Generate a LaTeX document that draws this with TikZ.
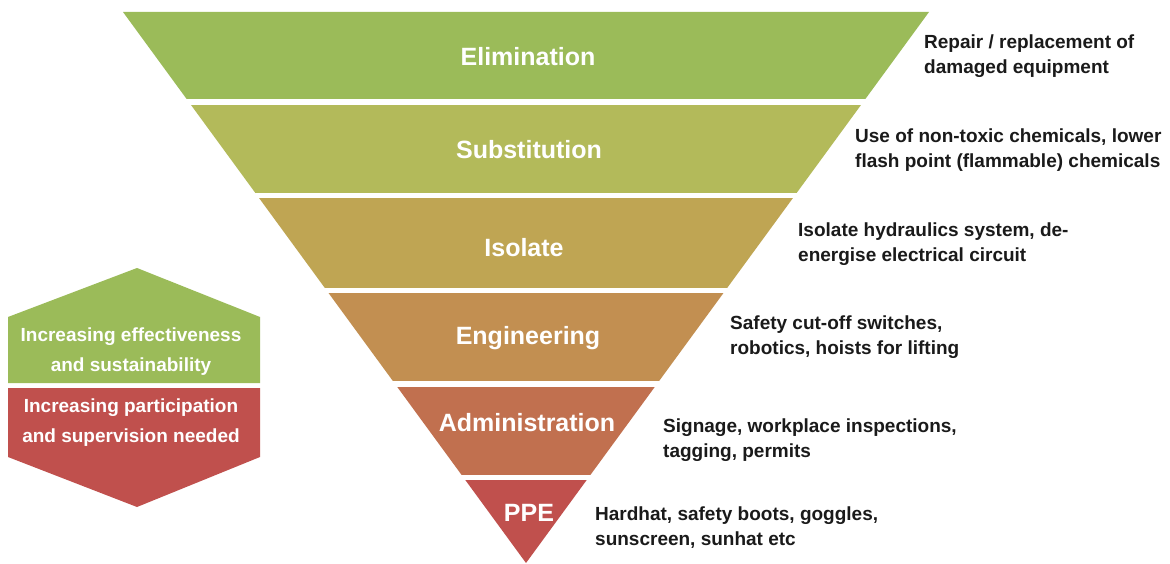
\documentclass[tikz,border=0pt]{standalone}
\usepackage{fontspec}
\setmainfont{Liberation Sans}
\definecolor{cA}{HTML}{9BBB59}
\definecolor{cB}{HTML}{B3BA5A}
\definecolor{cC}{HTML}{BFA553}
\definecolor{cD}{HTML}{C28F51}
\definecolor{cE}{HTML}{C1704F}
\definecolor{cF}{HTML}{C0504D}
\definecolor{txt}{HTML}{1A1A1A}
\begin{document}
\begin{tikzpicture}[x=1pt,y=-1pt,
  bandlabel/.style={text=white,font=\fontsize{25}{30}\selectfont\bfseries,inner sep=0pt},
  desc/.style={text=txt,font=\fontsize{19}{25}\selectfont\bfseries,align=left,anchor=west,inner sep=0pt},
  sidelabel/.style={text=white,font=\fontsize{19}{30}\selectfont\bfseries,align=center,inner sep=0pt}]
\useasboundingbox (0,0) rectangle (1170,564);
\fill[white] (0,0) rectangle (1170,564);
% bands of the inverted triangle
\foreach \t/\b/\c in {12/99/cA,106/193/cB,199/287/cC,293/380/cD,387/474/cE,480/564/cF}{
  \begin{scope}
    \clip (0,\t) rectangle (1170,\b);
    \fill[\c] (123,12) -- (929,12) -- (526,563) -- cycle;
  \end{scope}
}
% band labels
\node[bandlabel] (elim) at (528,57) {Elimination};
\node[bandlabel] (subs) at (529,150) {Substitution};
\node[bandlabel] (isol) at (524,248) {Isolate};
\node[bandlabel] (engi) at (528,338) {Engineering};
\node[bandlabel] (admi) at (527,423) {Administration};
\node[bandlabel] (ppe) at (529,513) {PPE};
% descriptions
\node[desc] (d1) at (924,56) {Repair / replacement of\\damaged equipment};
\node[desc] (d2) at (855,150) {Use of non-toxic chemicals, lower\\flash point (flammable) chemicals};
\node[desc] (d3) at (798,244) {Isolate hydraulics system, de-\\energise electrical circuit};
\node[desc] (d4) at (730,337) {Safety cut-off switches,\\robotics, hoists for lifting};
\node[desc] (d5) at (663,440) {Signage, workplace inspections,\\tagging, permits};
\node[desc] (d6) at (595,528) {Hardhat, safety boots, goggles,\\sunscreen, sunhat etc};
% left double arrow
\fill[cA] (8,383) -- (8,317) -- (137,268) -- (260,317) -- (260,383) -- cycle;
\fill[cF] (8,388) -- (260,388) -- (260,457) -- (137,507) -- (8,457) -- cycle;
\node[sidelabel] (up) at (131,352) {Increasing effectiveness\\and sustainability};
\node[sidelabel] (down) at (131,423) {Increasing participation\\and supervision needed};
\end{tikzpicture}
\end{document}
